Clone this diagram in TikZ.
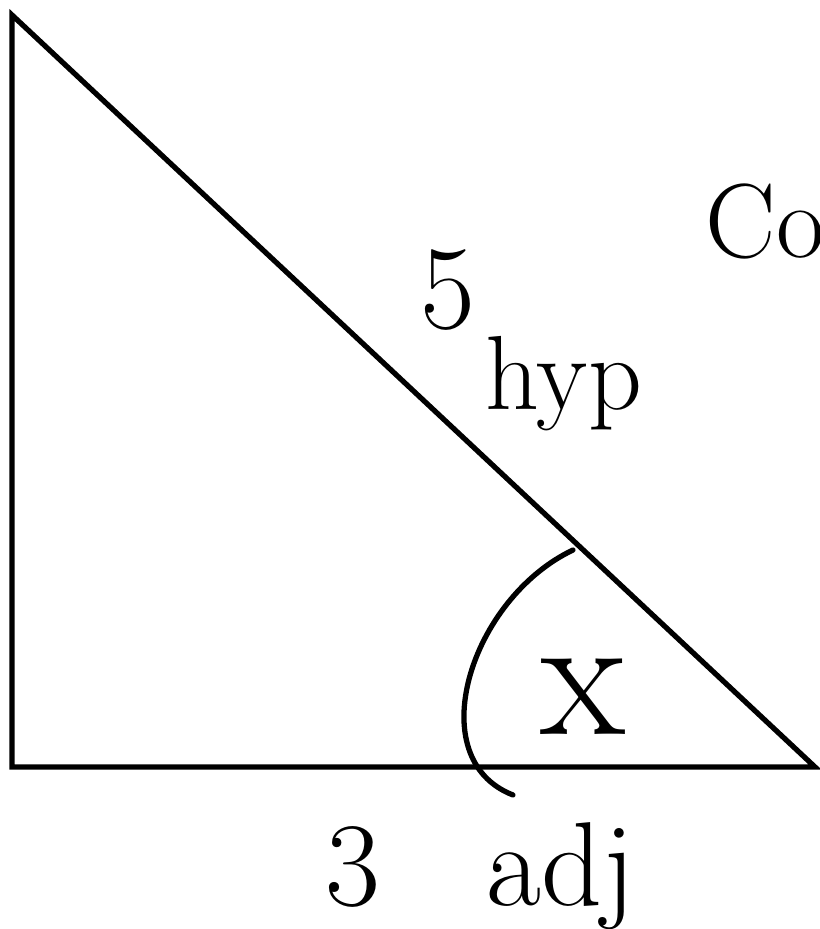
\documentclass[tikz,border=0pt]{standalone}
\usepackage{tikz}
\usetikzlibrary{positioning}

\begin{document}
\begin{tikzpicture}[
      node distance=0.6cm,
      side/.style={draw=black, line width=1.5pt, line cap=round, line join=miter},
      lbl/.style={inner sep=0pt, anchor=base west, font=\fontsize{30}{36}\selectfont},
      biglbl/.style={lbl, font=\fontsize{50}{56}\selectfont}
      ]
      \useasboundingbox (0,0) rectangle (8.19,9.29);

      % Corners
      \coordinate (top) at (0.12,9.14);
      \coordinate (corner) at (0.12,1.62);
      \coordinate (tip) at (8.15,1.62);
      \coordinate (arcstart) at (5.73,3.79);
      \coordinate (arcend) at (5.13,1.34);

      % Triangle and angle mark
      \draw [side] (top) -- (corner) -- (tip) -- cycle;
      \draw [side] (arcstart) .. controls (4.7,3.3) and (4.2,1.7) .. (arcend);

      % Labels
      \node (five) [lbl, font=\fontsize{34}{40}\selectfont] at (4.2,6.0) {5};
      \node (hyp) [lbl] at (4.85,5.19) {hyp};
      \node (angle) [biglbl] at (5.4,1.94) {x};
      \node (three) [lbl, font=\fontsize{34}{40}\selectfont] at (3.25,0.24) {3};
      \node (adj) [lbl, font=\fontsize{34}{40}\selectfont, base right=1.05cm of three] {adj};
      \node (co) [lbl] at (7.05,6.71) {Co};

    \end{tikzpicture}
\end{document}
